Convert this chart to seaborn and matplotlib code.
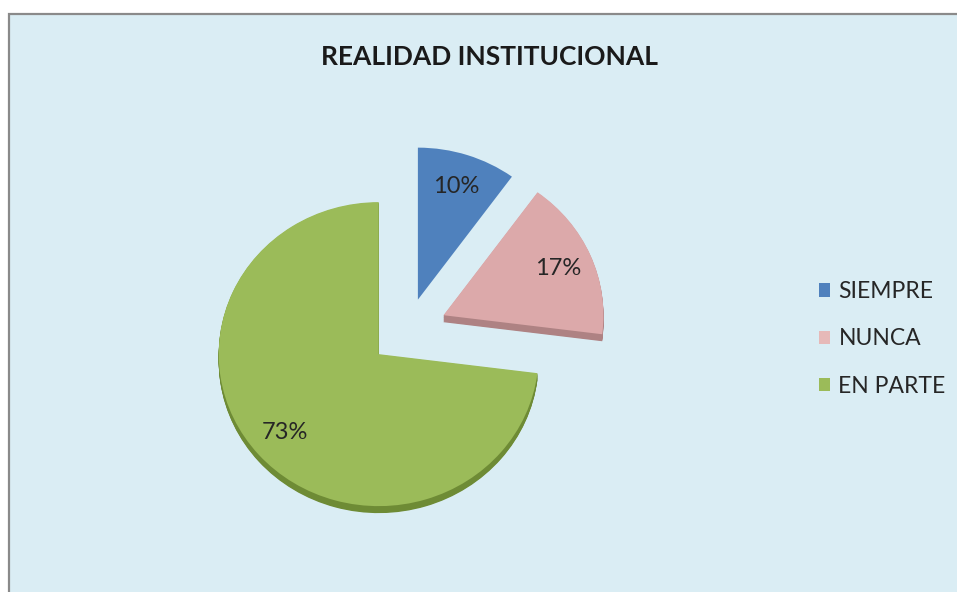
import matplotlib
matplotlib.use("Agg")
import matplotlib.pyplot as plt
from matplotlib.patches import Rectangle, Patch
import seaborn as sns

# Survey answers and their shares (percent)
categories = ["SIEMPRE", "NUNCA", "EN PARTE"]
percentages = [10, 17, 73]
title = "REALIDAD INSTITUCIONAL"

face_colors = ["#4F81BD", "#DCA9AA", "#9BBB59"]
# the blue wedge shows no extruded side
side_colors = [(0, 0, 0, 0), "#AE8283", "#6E8B35"]
legend_colors = ["#4F81BD", "#E6B9B8", "#9BBB59"]

sns.set_theme(style="white")
plt.rcParams["font.family"] = ["Lato", "DejaVu Sans"]

W, H = 957, 592
fig = plt.figure(figsize=(W / 100, H / 100), dpi=100, facecolor="white")

# Chart panel: light aqua fill with a grey frame on the left and top
fig.add_artist(Rectangle((9 / W, -0.1), 1.2, (1 - 14 / H) + 0.1,
                         transform=fig.transFigure, facecolor="#DAEDF4",
                         edgecolor="#8A8A8A", linewidth=1.6, zorder=0))

ax = fig.add_axes([0, 0, 1, 1])
ax.patch.set_alpha(0)

# Pie geometry (pixel centre and tilted radii)
cx, cy, rx, ry = 407.5, 330.0, 160.0, 152.0
explode = [0.21, 0.245, 0.24]
thickness_px = 7
n_layers = 10

# Extruded side of the tilted pie
for k in range(n_layers, 0, -1):
    off = k / n_layers * thickness_px / ry
    ax.pie(percentages, explode=explode, colors=side_colors, startangle=90,
           counterclock=False, center=(0, -off),
           wedgeprops=dict(linewidth=0, antialiased=True))

# Top face with percentage labels
wedges, texts, autotexts = ax.pie(
    percentages, explode=explode, colors=face_colors, startangle=90,
    counterclock=False, autopct=lambda p: f"{p:.0f}%", pctdistance=0.78,
    wedgeprops=dict(linewidth=0),
    textprops=dict(fontsize=17, color="#262626"))

ax.set_xlim(-cx / rx, (W - cx) / rx)
ax.set_ylim((cy - H) / ry, cy / ry)
ax.set_aspect("auto")
ax.axis("off")

fig.text(490 / W, 1 - 57 / H, title, ha="center", va="center",
         fontsize=19, fontweight="bold", color="#1A1A1A")

handles = [Patch(facecolor=c, edgecolor="none") for c in legend_colors]
ax.legend(handles, categories, loc="center left",
          bbox_to_anchor=(819 / W, 1 - 339 / H), bbox_transform=fig.transFigure,
          frameon=False, prop=dict(size=16.5), labelcolor="#262626",
          handlelength=0.5, handleheight=0.5, handletextpad=0.35,
          labelspacing=1.15, borderpad=0, borderaxespad=0)

fig.savefig("out.png", dpi=100, facecolor="white")
